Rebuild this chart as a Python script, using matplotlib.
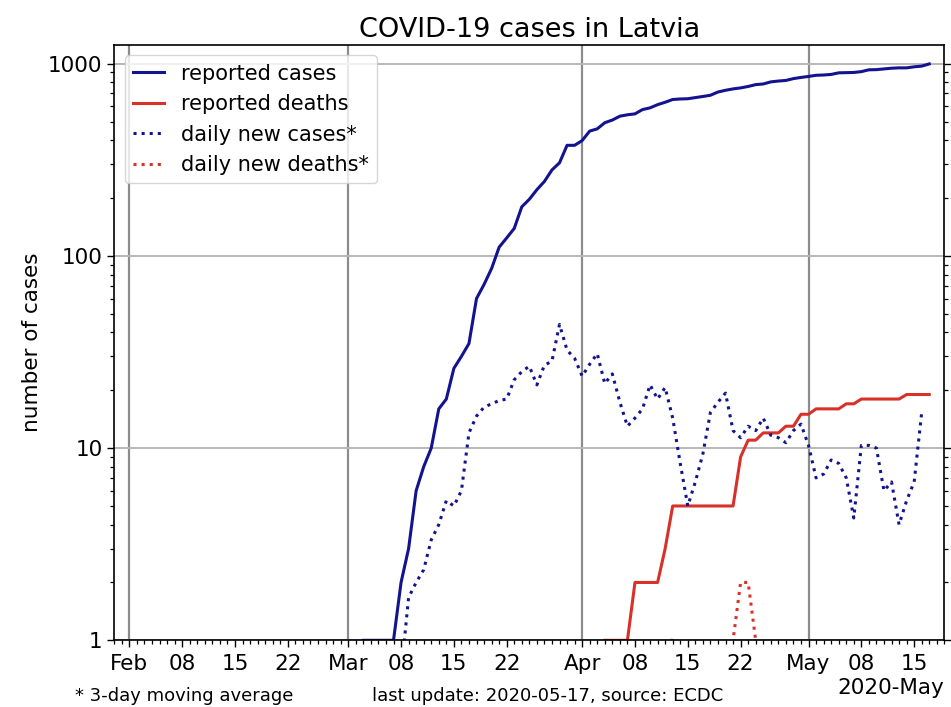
import numpy as np
import pandas as pd
import matplotlib
matplotlib.use("Agg")
import matplotlib.pyplot as plt
import matplotlib.dates as mdates
from matplotlib.ticker import FuncFormatter, LogLocator, NullFormatter

# cumulative numbers, one value per day
cases_start = "2020-03-03"
cases = [1, 1, 1, 1, 1, 2, 3, 6, 8, 10, 16, 18, 26, 30, 35, 60, 71, 86, 111, 124,
         139, 180, 197, 221, 244, 280, 305, 376, 376,
         398, 446, 458, 493, 509, 533, 542, 548, 577, 589, 612, 630, 651, 655, 657,
         666, 675, 685, 712, 727, 739, 748, 761, 778, 784, 804, 812, 818, 836, 848,
         858, 870, 873, 879, 896, 898, 900, 909, 929, 931, 939, 947, 951, 951, 963,
         971, 997]

deaths_start = "2020-04-04"
deaths = [1, 1, 1, 1, 2, 2, 2, 2, 3, 5, 5, 5, 5, 5, 5, 5, 5, 5,
          9, 11, 11, 12, 12, 12, 13, 13, 15,
          15, 16, 16, 16, 16, 17, 17, 18, 18, 18, 18, 18, 18, 19, 19, 19, 19]

# daily numbers, 3-day moving average
new_cases_start = "2020-03-08"
new_cases = [0.67, 1.67, 2.0, 2.33, 3.33, 4.0, 5.33, 5.0, 6.0, 12.0, 14.67, 16.33,
             17.0, 17.67, 18.0, 22.67, 25.0, 26.67, 21.33, 27.0, 28.33, 44.0, 32.33,
             29.33, 23.67, 27.33, 31.0, 21.67, 24.33, 17.33, 13.0, 14.33, 16.0, 21.33,
             18.0, 20.67, 14.33, 8.33, 5.0, 6.67, 9.33, 15.33, 17.33, 19.33, 12.33,
             11.33, 13.0, 12.33, 14.33, 11.67, 11.33, 10.67, 12.33, 13.33, 10.33, 7.0,
             7.33, 8.67, 8.33, 7.0, 4.33, 10.33, 10.33, 10.0, 6.0, 6.67, 4.0, 5.33,
             6.67, 15.33]

new_deaths_start = "2020-04-03"
new_deaths = [0.33, 0.33, 0.33, 0, 0.33, 0.33, 0.33, 0, 0.33, 1.0, 1.0, 0.67, 0, 0,
              0, 0, 0, 0, 1.0, 2.0, 2.0, 1.0, 0.33, 0.33, 0.33, 0.33, 0.67, 0.67,
              0.67, 0.33, 0.33, 0, 0.33, 0.33, 0.67, 0.33, 0.33, 0, 0, 0, 0.33, 0.33,
              0.33, 0]

month_starts = ["2020-02-01", "2020-03-01", "2020-04-01", "2020-05-01"]


def days(start, values):
    return pd.date_range(start, periods=len(values), freq="D")


blue = "#13138f"
red = "#d8312a"

fig = plt.figure(figsize=(9.51, 7.07), dpi=100)
ax = fig.add_axes([0.1202, 0.0943, 0.8728, 0.842])
ax.set_yscale("log")

ax.plot(days(cases_start, cases), cases, color=blue, lw=2.2, label="reported cases")
ax.plot(days(deaths_start, deaths), deaths, color=red, lw=2.2, label="reported deaths")
ax.plot(days(new_cases_start, new_cases), new_cases, color=blue, lw=2.2, ls=":",
        label="daily new cases*")
ax.plot(days(new_deaths_start, new_deaths), new_deaths, color=red, lw=2.2, ls=":",
        label="daily new deaths*")

# grid: light horizontal lines, darker lines at month starts
ax.grid(axis="y", which="major", color="#b8b8b8", lw=1.4)
for m in month_starts:
    ax.axvline(pd.Timestamp(m), color="#8c8c8c", lw=1.6, zorder=0.5)

ax.set_xlim(pd.Timestamp("2020-01-30"), pd.Timestamp("2020-05-19"))
ax.set_ylim(1, 1250)

loc = mdates.DayLocator(bymonthday=[1, 8, 15, 22])
ax.xaxis.set_major_locator(loc)
ax.xaxis.set_minor_locator(mdates.DayLocator())
ax.xaxis.set_major_formatter(mdates.ConciseDateFormatter(loc))

ax.yaxis.set_major_locator(LogLocator(base=10))
ax.yaxis.set_minor_locator(LogLocator(base=10, subs=np.arange(2, 10)))
ax.yaxis.set_major_formatter(FuncFormatter(lambda v, p: f"{v:g}"))
ax.yaxis.set_minor_formatter(NullFormatter())

ax.tick_params(axis="both", which="major", labelsize=15.5, length=5, width=1)
ax.tick_params(axis="both", which="minor", length=3, width=0.9)
ax.tick_params(axis="y", which="both", right=True)
ax.tick_params(axis="x", which="major", pad=4.5)
ax.xaxis.get_offset_text().set_fontsize(15.5)
for s in ax.spines.values():
    s.set_linewidth(1.2)

ax.set_ylabel("number of cases", fontsize=15.5)
ax.set_title("COVID-19 cases in Latvia", fontsize=19.5)

ax.legend(loc="upper left", fontsize=15, handlelength=1.5)

fig.text(0.079, 0.009, "* 3-day moving average", fontsize=13)
fig.text(0.391, 0.009, "last update: 2020-05-17, source: ECDC", fontsize=13)

fig.savefig("out.png", dpi=100)
